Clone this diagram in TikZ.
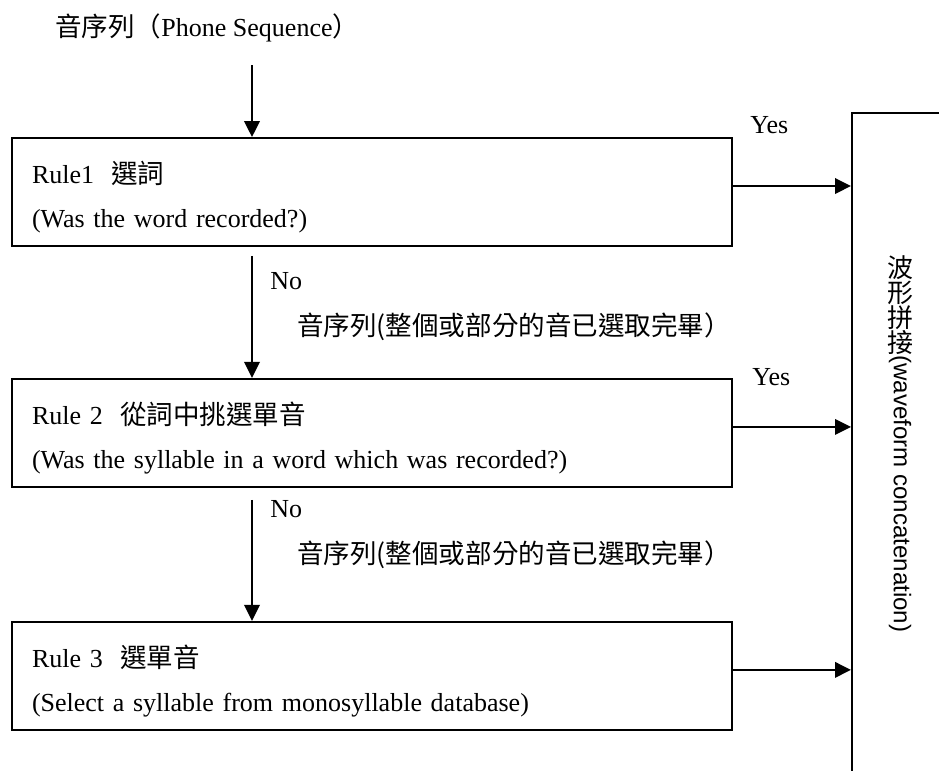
\documentclass[tikz,border=0pt]{standalone}
\usepackage{fontspec}
\setmainfont{Liberation Serif}
\newfontfamily\cjk[Scale=1.02]{Noto Sans CJK TC}
\newfontfamily\ccsans{Liberation Sans}
\usetikzlibrary{positioning,arrows.meta}
\newcommand\firstline{\rule{0pt}{19pt}}
\tikzset{
  rulebox/.style={draw, line width=1.1pt, minimum width=14.4cm, minimum height=2.16cm,
    text width=13.6cm, inner xsep=0.4cm, align=left},
  lbl/.style={inner sep=0pt, anchor=west},
  flow/.style={line width=1.1pt, -{Triangle[length=0.32cm,width=0.31cm]}}
}
\begin{document}
\begin{tikzpicture}[font={\fontsize{14.8pt}{25pt}\selectfont}]
    \useasboundingbox (0,0) rectangle (18.78,-15.4);
    \clip (0,0) rectangle (18.78,-15.4);
    % rule boxes
    \node[rulebox] (b1) at (7.44,-3.84) {\firstline Rule1\ \ {\cjk 選詞}\\(Was the word recorded?)};
    \node[rulebox, below=2.62cm of b1] (b2) {\firstline Rule 2\ \ {\cjk 從詞中挑選單音}\\(Was the syllable in a word which was recorded?)};
    \node[rulebox, below=2.66cm of b2] (b3) {\firstline Rule 3\ \ {\cjk 選單音}\\(Select a syllable from monosyllable database)};
    % waveform concatenation box (runs off the page)
    \node[draw, line width=1.1pt, anchor=north west, minimum width=4cm, minimum height=15cm] (cc) at (17.02,-2.24) {};
    \node[align=center, inner sep=0pt, font={\fontsize{14.5pt}{14.3pt}\selectfont\cjk}] (ccz) at (18.0,-6.1) {波\\形\\拼\\接};
    \node[rotate=-90, lbl, font={\fontsize{13.7pt}{16pt}\selectfont\ccsans}] (cce) at (18.0,-7.1) {(waveform concatenation)};
    % texts
    \node[lbl] (seq0) at (1.1,-0.56) {{\cjk 音序列（}Phone Sequence{\cjk ）}};
    \node[lbl] (no1) at (5.4,-5.62) {No};
    \node[lbl] (seq1) at (5.94,-6.54) {\cjk 音序列(整個或部分的音已選取完畢）};
    \node[lbl] (no2) at (5.4,-10.18) {No};
    \node[lbl] (seq2) at (5.94,-11.1) {\cjk 音序列(整個或部分的音已選取完畢）};
    \node[lbl] (yes1) at (15.0,-2.5) {Yes};
    \node[lbl] (yes2) at (15.04,-7.54) {Yes};
    % arrows
    \coordinate (s0) at (5.04,-1.3);
    \draw[flow] (s0) -- (s0 |- b1.north);
    \draw[flow] ([yshift=-0.18cm]b1.south -| s0) -- (b2.north -| s0);
    \draw[flow] ([yshift=-0.24cm]b2.south -| s0) -- (b3.north -| s0);
    \foreach \b in {b1,b2,b3}
      \draw[flow] ([yshift=0.12cm]\b.east) -- ([yshift=0.12cm]\b.east -| cc.west);
\end{tikzpicture}
\end{document}
